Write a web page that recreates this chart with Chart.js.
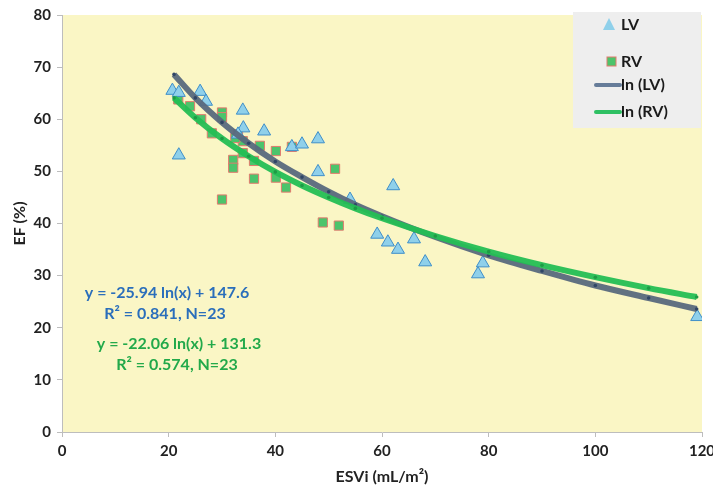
<!DOCTYPE html>
<html>
<head>
<meta charset="utf-8">
<script src="https://cdn.jsdelivr.net/npm/chart.js@4"></script>
<style>
  html, body { margin: 0; padding: 0; background: #fff; }
  #wrap { width: 713px; height: 490px; }
</style>
</head>
<body>
<div id="wrap"><canvas id="efChart"></canvas></div>
<script>
// ----- data
const lvX = [20.7, 21.9, 21.9, 25.9, 27.0, 33.9, 34.0, 33.0, 37.9, 43.1, 45.0, 48.0,
             48.0, 54.0, 59.1, 61.1, 62.1, 63.0, 66.0, 68.1, 78.9, 78.0, 119.1];
const lvY = [65.5, 65.1, 53.1, 65.3, 63.4, 61.7, 58.3, 57.1, 57.7, 54.7, 55.2, 56.2,
             49.9, 44.6, 37.9, 36.4, 47.2, 35.0, 37.0, 32.6, 32.4, 30.3, 22.1];

const rvX = [21.8, 24.0, 26.1, 28.1, 30.0, 30.0, 30.0, 32.1, 32.1, 33.0, 33.9, 33.9,
             36.0, 36.0, 37.1, 40.1, 40.1, 42.0, 43.1, 51.2, 48.9, 51.9, 32.5];
const rvY = [63.8, 62.5, 60.0, 57.3, 61.3, 60.4, 44.6, 52.2, 50.7, 57.1, 55.8, 53.5,
             52.0, 48.6, 54.9, 53.9, 48.8, 46.9, 54.7, 50.5, 40.2, 39.6, 56.4];

// log trend lines (values along the drawn curves)
const fitX   = [21, 25, 30, 35, 40, 45, 50, 55, 60, 70, 80, 90, 100, 110, 119];
const lvFitY = [68.6, 64.1, 59.4, 55.4, 51.9, 48.9, 46.1, 43.6, 41.4, 37.4, 33.9, 30.9, 28.1, 25.7, 23.6];
const rvFitY = [64.1, 60.3, 56.3, 52.9, 49.9, 47.3, 45.0, 42.9, 41.0, 37.6, 34.6, 32.0, 29.7, 27.6, 25.9];

const seriesNames = ['LV', 'RV', 'ln (LV)', 'ln (RV)'];
const lvEquation = ['y = -25.94 ln(x) + 147.6', 'R² = 0.841, N=23'];
const rvEquation = ['y = -22.06 ln(x) + 131.3', 'R² = 0.574, N=23'];

function pairs(xs, ys) {
  return xs.map((x, i) => ({ x: x, y: ys[i] }));
}

const FONT = 'Lato, "Open Sans", sans-serif';
const lvFill = '#8FD0EA', lvEdge = '#3F8FC9';
const rvFill = '#4CC46B', rvEdge = '#E27A6E';
const lvLine = 'rgba(88,105,125,0.95)', rvLine = 'rgba(36,190,84,0.95)';

// plot background + legend box + equations
const decor = {
  id: 'decor',
  beforeDraw(chart) {
    const { ctx, chartArea: a } = chart;
    ctx.save();
    ctx.fillStyle = '#FAF6C5';
    ctx.fillRect(a.left, a.top, a.right - a.left, a.bottom - a.top);
    ctx.restore();
  },
  afterDraw(chart) {
    const ctx = chart.ctx;
    ctx.save();
    // legend
    ctx.fillStyle = '#EEEEEE';
    ctx.fillRect(573, 12, 128, 116);
    ctx.font = 'bold 16px ' + FONT;
    ctx.textBaseline = 'middle';
    ctx.textAlign = 'left';
    // LV triangle
    ctx.beginPath();
    ctx.moveTo(609, 18); ctx.lineTo(615, 30); ctx.lineTo(603, 30); ctx.closePath();
    ctx.fillStyle = lvFill; ctx.fill();
    ctx.fillStyle = '#1a1a1a';
    ctx.fillText(seriesNames[0], 621, 25);
    // RV square
    ctx.fillStyle = rvFill; ctx.fillRect(607, 57, 9, 9);
    ctx.strokeStyle = rvEdge; ctx.lineWidth = 1; ctx.strokeRect(607, 57, 9, 9);
    ctx.fillStyle = '#1a1a1a';
    ctx.fillText(seriesNames[1], 621, 62);
    // lines
    ctx.lineWidth = 4; ctx.lineCap = 'round';
    ctx.strokeStyle = '#667C99';
    ctx.beginPath(); ctx.moveTo(596, 85); ctx.lineTo(620, 85); ctx.stroke();
    ctx.strokeStyle = '#2EC063';
    ctx.beginPath(); ctx.moveTo(596, 112); ctx.lineTo(620, 112); ctx.stroke();
    ctx.fillStyle = '#1a1a1a';
    ctx.fillText(seriesNames[2], 621, 85, 62);
    ctx.fillText(seriesNames[3], 621, 112, 62);

    // equations
    ctx.textAlign = 'center';
    ctx.font = 'bold 16px ' + FONT;
    ctx.fillStyle = '#2A6EBB';
    ctx.fillText(lvEquation[0], 167, 293, 172);
    ctx.fillText(lvEquation[1], 165, 314, 124);
    ctx.fillStyle = '#22A94A';
    ctx.fillText(rvEquation[0], 179, 344, 170);
    ctx.fillText(rvEquation[1], 177, 365, 130);
    ctx.restore();
  }
};

var ctx = document.getElementById('efChart');

new Chart(ctx, {
  type: 'scatter',
  data: {
    datasets: [
      {
        label: seriesNames[2],
        data: pairs(fitX, lvFitY),
        showLine: true,
        borderColor: lvLine,
        borderWidth: 6,
        cubicInterpolationMode: 'monotone',
        pointRadius: 1.8,
        pointBackgroundColor: '#2F4566',
        pointBorderWidth: 0,
        order: 2
      },
      {
        label: seriesNames[3],
        data: pairs(fitX, rvFitY),
        showLine: true,
        borderColor: rvLine,
        borderWidth: 6,
        cubicInterpolationMode: 'monotone',
        pointRadius: 1.8,
        pointBackgroundColor: '#1E9A45',
        pointBorderWidth: 0,
        order: 1
      },
      {
        label: seriesNames[0],
        data: pairs(lvX, lvY),
        pointStyle: 'triangle',
        pointRadius: 7.5,
        backgroundColor: lvFill,
        borderColor: lvEdge,
        borderWidth: 1,
        order: 3
      },
      {
        label: seriesNames[1],
        data: pairs(rvX, rvY),
        pointStyle: 'rect',
        pointRadius: 6.5,
        backgroundColor: rvFill,
        borderColor: rvEdge,
        borderWidth: 1,
        order: 4
      }
    ]
  },
  options: {
    responsive: true,
    maintainAspectRatio: false,
    animation: false,
    layout: { padding: { top: 12, right: 0, left: 0, bottom: 0 } },
    plugins: {
      legend: { display: false },
      tooltip: { enabled: false }
    },
    scales: {
      x: {
        type: 'linear',
        min: 0,
        max: 120,
        afterFit: function(s) { s.height = 58; s.paddingRight = 11; },
        ticks: {
          stepSize: 20,
          color: '#222',
          font: { family: FONT, size: 15, weight: 'bold' },
          padding: 5
        },
        grid: { drawOnChartArea: false, drawTicks: true, tickLength: 5, color: '#BDBDBD' },
        border: { display: true, color: '#BDBDBD' },
        title: {
          display: true,
          text: 'ESVi (mL/m²)',
          color: '#222',
          font: { family: FONT, size: 16, weight: 'bold' },
          padding: { top: 3 }
        }
      },
      y: {
        min: 0,
        max: 80,
        afterFit: function(s) { s.width = 62; },
        ticks: {
          stepSize: 10,
          color: '#222',
          font: { family: FONT, size: 15, weight: 'bold' },
          padding: 6
        },
        grid: { drawOnChartArea: false, drawTicks: true, tickLength: 5, color: '#BDBDBD' },
        border: { display: true, color: '#BDBDBD' },
        title: {
          display: true,
          text: 'EF (%)',
          color: '#222',
          font: { family: FONT, size: 16, weight: 'bold' },
          padding: { top: 10, bottom: 0 }
        }
      }
    }
  },
  plugins: [decor]
});
</script>
</body>
</html>
